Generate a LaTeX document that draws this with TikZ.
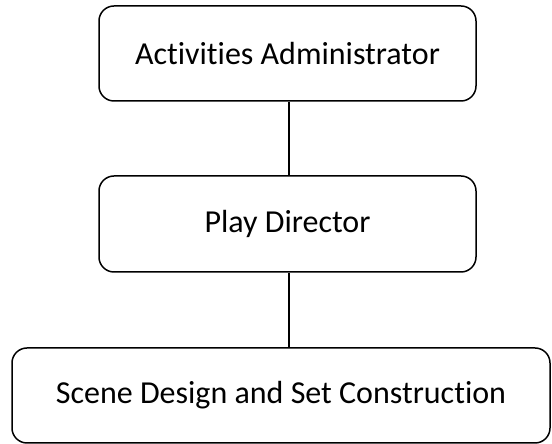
\documentclass[tikz,border=0pt]{standalone}
\usepackage{fontspec}
\setmainfont{Carlito}[Ligatures={NoCommon,NoRare,NoDiscretionary}]
\begin{document}
\begin{tikzpicture}[x=1pt,y=1pt,
  orgbox/.style={draw=black, line width=1.5pt, rounded corners=15pt, inner sep=0pt,
    font=\fontsize{32}{38}\selectfont},
  link/.style={draw=black, line width=1.5pt}]
\useasboundingbox (0,0) rectangle (552,444);
\node[orgbox, minimum width=377pt, minimum height=95pt] (b1) at (287.5,390.5) {Activities Administrator};
\node[orgbox, minimum width=377pt, minimum height=96pt] (b2) at (287.5,220) {Play Director};
\node[orgbox, minimum width=538pt, minimum height=95pt] (b3) at (281,48.5) {Scene Design and Set Construction};
\draw[link] ([xshift=1.5pt]b1.south) -- ([xshift=1.5pt]b2.north);
\draw[link] ([xshift=1.5pt]b2.south) -- ([xshift=8pt]b3.north);
\end{tikzpicture}
\end{document}
